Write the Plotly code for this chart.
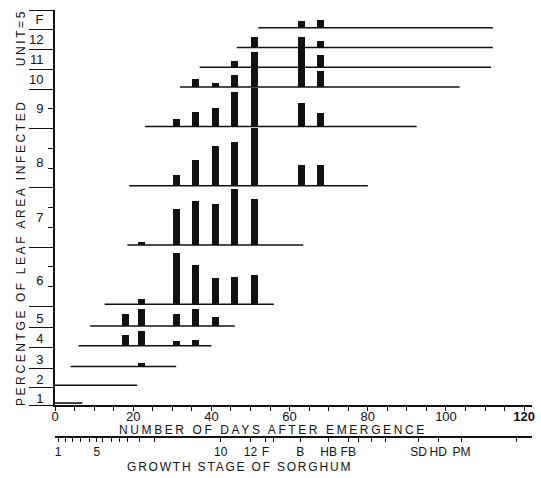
import plotly.graph_objects as go

UNIT = 5  # one y tick step = 5 % leaf area infected

# sampling days (days after emergence)
sample_days = [18, 22, 31, 36, 41, 46, 51, 63, 68]

# leaf units, bottom to top
leaf_labels = ["1", "2", "3", "4", "5", "6", "7", "8", "9", "10", "11", "12", "F"]
band_floor = [0, 0.9, 1.85, 2.9, 3.9, 5, 8, 11, 14, 16, 17, 18, 19]
band_top = 20
label_pos = [0.35, 1.3, 2.3, 3.35, 4.4, 6.3, 9.5, 12.3, 15, 16.5, 17.5, 18.5, 19.5]

# leaf life span (days after emergence)
leaf_start = [0, 0, 4, 6, 9, 12.7, 18.5, 19, 23, 32, 37, 46.5, 52]
leaf_end = [7, 21, 31, 40, 46, 56, 63.5, 80, 92.5, 103.5, 111.5, 112, 112]

# percentage of leaf area infected on each sampling day
leaf1 = [0, 0, 0, 0, 0, 0, 0, 0, 0]
leaf2 = [0, 0, 0, 0, 0, 0, 0, 0, 0]
leaf3 = [0, 1.0, 0, 0, 0, 0, 0, 0, 0]
leaf4 = [2.7, 3.7, 1.2, 1.5, 0, 0, 0, 0, 0]
leaf5 = [3.0, 4.3, 3.0, 4.3, 2.3, 0, 0, 0, 0]
leaf6 = [0, 1.3, 13.0, 10.0, 6.7, 6.9, 7.4, 0, 0]
leaf7 = [0, 0.8, 9.1, 11.2, 10.4, 14.2, 11.7, 0, 0]
leaf8 = [0, 0, 2.7, 6.5, 10.0, 11.1, 14.6, 5.3, 5.3]
leaf9 = [0, 0, 1.9, 3.7, 4.7, 8.7, 9.8, 6.0, 3.4]
leaf10 = [0, 0, 0, 2.0, 1.0, 3.0, 8.9, 9.9, 4.1]
leaf11 = [0, 0, 0, 0, 0, 1.6, 0, 0, 3.1]
leaf12 = [0, 0, 0, 0, 0, 0, 2.7, 2.7, 1.7]
leafF = [0, 0, 0, 0, 0, 0, 0, 1.7, 2.0]
leaf_values = [leaf1, leaf2, leaf3, leaf4, leaf5, leaf6, leaf7, leaf8,
               leaf9, leaf10, leaf11, leaf12, leafF]

# growth stage axis
stage_labels = ["1", "5", "10", "12", "F", "B", "HB", "FB", "SD", "HD", "PM"]
stage_days = [0.8, 10.7, 42.4, 50, 53.8, 62.7, 70, 75, 93, 98, 104]
stage_minor_days = [2.8, 4.6, 6.6, 8.7, 12.2, 14.5, 16.5, 18.6, 21.6, 25.4,
                    56, 77.6, 80.9, 84.5, 118]

day_ticks = [0, 20, 40, 60, 80, 100, 120]
day_ticktext = ["0", "20", "40", "60", "80", "100", "<b>120</b>"]

FONT = "Liberation Sans"
INK = "#111111"

fig = go.Figure()

for lab, floor, s, e, vals in zip(leaf_labels, band_floor, leaf_start, leaf_end, leaf_values):
    base = floor + 0.1
    fig.add_trace(go.Scatter(
        x=[s, e], y=[base, base], mode="lines",
        line=dict(color=INK, width=1.6), showlegend=False, hoverinfo="skip"))
    xs = [d for d, v in zip(sample_days, vals) if v > 0]
    hs = [v / UNIT for v in vals if v > 0]
    if xs:
        fig.add_trace(go.Bar(
            x=xs, y=hs, base=[base] * len(xs), width=1.8,
            marker=dict(color=INK, line=dict(width=0)),
            showlegend=False, name="Leaf " + lab))

# invisible helpers so the growth-stage axis and the leaf-label axis get drawn
fig.add_trace(go.Scatter(x=[stage_days[0]], y=[0], xaxis="x2", yaxis="y",
                         mode="markers", marker=dict(opacity=0),
                         showlegend=False, hoverinfo="skip"))
fig.add_trace(go.Scatter(x=[0], y=[label_pos[0]], xaxis="x", yaxis="y2",
                         mode="markers", marker=dict(opacity=0),
                         showlegend=False, hoverinfo="skip"))

boundaries = band_floor + [band_top]
minor_y = [6, 7, 9, 10, 12, 13, 15]

fig.update_layout(
    width=541, height=478,
    margin=dict(l=55, r=6, t=10, b=41),
    paper_bgcolor="white", plot_bgcolor="white",
    barmode="overlay", bargap=0,
    font=dict(family=FONT, color=INK, size=13),
    xaxis=dict(
        range=[0, 122], domain=[0, 1], anchor="y",
        showline=True, linecolor=INK, linewidth=1.8,
        tickmode="array", tickvals=day_ticks, ticktext=day_ticktext,
        ticks="outside", ticklen=4, tickwidth=1.2, tickcolor=INK,
        ticklabelstandoff=-6,
        minor=dict(tickmode="linear", tick0=0, dtick=5, ticks="outside",
                   ticklen=4, tickwidth=1.2, tickcolor=INK),
        showgrid=False, zeroline=False,
        tickfont=dict(size=13, family=FONT, color=INK),
    ),
    xaxis2=dict(
        range=[0, 122], overlaying="x", anchor="free", position=0, side="bottom",
        showline=True, linecolor=INK, linewidth=1.8,
        tickmode="array", tickvals=stage_days, ticktext=stage_labels,
        ticks="outside", ticklen=4, tickwidth=1.2, tickcolor=INK,
        minor=dict(tickmode="array", tickvals=stage_minor_days, ticks="outside",
                   ticklen=4, tickwidth=1.2, tickcolor=INK),
        showgrid=False, zeroline=False,
        tickfont=dict(size=12, family=FONT, color=INK),
    ),
    yaxis=dict(
        range=[0, band_top], domain=[32 / 427, 1], anchor="x",
        showline=True, linecolor=INK, linewidth=1.8,
        tickmode="array", tickvals=boundaries, showticklabels=False,
        ticks="outside", ticklen=24, tickwidth=1.3, tickcolor=INK,
        minor=dict(tickmode="array", tickvals=minor_y, ticks="outside",
                   ticklen=5, tickwidth=1.3, tickcolor=INK),
        showgrid=False, zeroline=False,
    ),
    yaxis2=dict(
        range=[0, band_top], overlaying="y", anchor="x", side="left",
        showline=False, showgrid=False, zeroline=False,
        tickmode="array", tickvals=label_pos, ticktext=leaf_labels,
        ticks="outside", ticklen=8, tickcolor="rgba(0,0,0,0)",
        tickfont=dict(size=13, family=FONT, color=INK),
    ),
)

annotations = [
    dict(text='<span style="letter-spacing:2.6px">NUMBER OF DAYS AFTER EMERGENCE</span>',
         xref="paper", yref="paper", x=0.458, y=0.0164, showarrow=False,
         xanchor="center", yanchor="middle", font=dict(size=12, family=FONT, color=INK)),
    dict(text='<span style="letter-spacing:1.8px">GROWTH STAGE OF SORGHUM</span>',
         xref="paper", yref="paper", x=0.3875, y=-0.07, showarrow=False,
         xanchor="center", yanchor="middle", font=dict(size=12, family=FONT, color=INK)),
    dict(text='<span style="letter-spacing:2.6px">PERCENTGE OF LEAF AREA INFECTED</span>',
         xref="paper", yref="paper", x=-0.071, y=0.431, showarrow=False, textangle=-90,
         xanchor="center", yanchor="middle", font=dict(size=12, family=FONT, color=INK)),
    dict(text='<span style="letter-spacing:2.6px">UNIT=5</span>',
         xref="paper", yref="paper", x=-0.071, y=0.934, showarrow=False, textangle=-90,
         xanchor="center", yanchor="middle", font=dict(size=12, family=FONT, color=INK)),
]
fig.update_layout(annotations=annotations)

fig.write_html(
    "out.html",
    config={"displayModeBar": False},
    post_script="document.body.style.margin='0';document.body.style.overflow='hidden';",
)
